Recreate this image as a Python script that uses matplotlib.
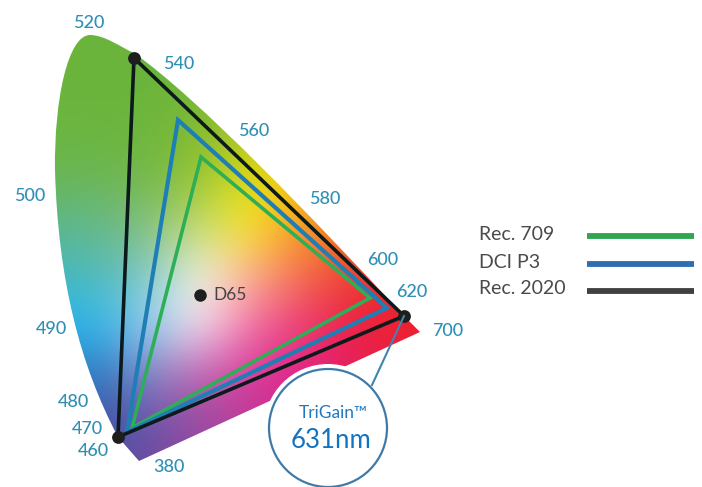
import matplotlib
matplotlib.use("Agg")
import matplotlib.pyplot as plt
from matplotlib.colors import to_rgb
from matplotlib.patches import Polygon, Circle, PathPatch
from matplotlib.path import Path
import numpy as np

plt.rcParams["font.family"] = ["Lato", "DejaVu Sans"]

# everything in pixels
# colour samples on a regular 50 px grid, x = 50..450, y = 25..475
grid_x = [50, 100, 150, 200, 250, 300, 350, 400, 450]
grid_y = [25, 75, 125, 175, 225, 275, 325, 375, 425, 475]
grid_colors = [
    ["#6ab43c", "#6ab43c", "#6ab43c", "#6ab43c", "#7ab83a", "#8cbc30", "#b8c820", "#e8d010", "#f0b010"],
    ["#6ab43c", "#6ab43c", "#6ab43c", "#70b63a", "#7ab83a", "#8cbc30", "#b8c820", "#e8d010", "#f0b010"],
    ["#6cb640", "#6cb63e", "#6cb63c", "#82ba34", "#a8c428", "#c8cc18", "#e8d010", "#f0b010", "#f09018"],
    ["#6ab654", "#6cb650", "#74b84a", "#94c430", "#e4dc10", "#f8cc10", "#f4a018", "#f08020", "#ee5a28"],
    ["#5db78c", "#66b88a", "#86c07c", "#c6dc70", "#fcec20", "#f59a20", "#f07a20", "#ee5028", "#ec3028"],
    ["#45b8c0", "#52bab8", "#84c8c8", "#f6fae8", "#fdb494", "#f57050", "#f04030", "#ee2a28", "#ec2028"],
    ["#28b8f0", "#2cb8f0", "#98d0f4", "#ffeef8", "#f070a8", "#ee3c78", "#e82048", "#ec2030", "#ec2028"],
    ["#2c80c0", "#2c78c0", "#8888c4", "#c060b0", "#d83898", "#e0208c", "#e8205c", "#ec2040", "#ec2030"],
    ["#3a55a5", "#3a55a5", "#6a50a8", "#9a4aa0", "#c03c98", "#d82890", "#e02080", "#e8206c", "#ec2040"],
    ["#5a4ca0", "#5a4ca0", "#6f4da0", "#8a4aa0", "#b04098", "#d02890", "#e02080", "#e8206c", "#ec2040"],
]

rec709_x = [201, 370, 132]
rec709_y = [157, 298, 428]
p3_x = [178, 387, 127]
p3_y = [120, 308, 432]
rec2020_x = [134, 404, 118]
rec2020_y = [58, 316, 437]

wave_labels = ["520", "540", "560", "580", "600", "620", "700", "500", "490", "480", "470", "460", "380"]
wave_x = [89, 179, 254, 325, 383, 412, 448, 30, 52, 74, 87, 93, 169]
wave_y = [23, 64, 131, 199, 260, 292, 331, 196, 329, 402, 429, 451, 467]

legend_names = ["Rec. 709", "DCI P3", "Rec. 2020"]
legend_y = [236, 264, 291]
legend_colors = ["#2fa650", "#2f6fb0", "#404040"]

fig = plt.figure(figsize=(7.02, 4.87), dpi=100)
ax = fig.add_axes([0, 0, 1, 1])

# gradient fill, clipped to the horseshoe
rgb = np.array([[to_rgb(c) for c in row] for row in grid_colors])
im = ax.imshow(rgb, extent=(25, 475, 500, 0), interpolation="bicubic", aspect="auto", zorder=1)
ax.set_xlim(0, 702)
ax.set_ylim(487, 0)
ax.axis("off")

verts = [(118, 437), (80, 365), (58, 280), (55, 170), (54, 100), (68, 35), (90, 35),
         (105, 35), (122, 48), (134, 53), (200, 100), (310, 215), (404, 316),
         (420, 332), (139, 461), (118, 437)]
codes = [Path.MOVETO] + [Path.CURVE4] * 12 + [Path.LINETO] * 2 + [Path.CLOSEPOLY]
locus = PathPatch(Path(verts, codes), fc="none", ec="none", transform=ax.transData)
ax.add_patch(locus)
im.set_clip_path(locus)

# gamut triangles
ax.add_patch(Polygon(np.column_stack([rec709_x, rec709_y]), closed=True, fill=False, ec="#2fae58", lw=2.6, zorder=3))
ax.add_patch(Polygon(np.column_stack([p3_x, p3_y]), closed=True, fill=False, ec="#1f7fb4", lw=3.0, zorder=3))
ax.add_patch(Polygon(np.column_stack([rec2020_x, rec2020_y]), closed=True, fill=False, ec="#0c1a1c", lw=2.6, zorder=4))
ax.scatter(rec2020_x, rec2020_y, s=85, color="#1e1e1e", zorder=5, linewidths=0)

ax.plot([200], [295], "o", ms=9, color="#1e1e1e", mew=0, zorder=5)
ax.text(213, 295, "D65", fontsize=12.5, color="#444444", va="center", zorder=6)

for t, x, y in zip(wave_labels, wave_x, wave_y):
    ax.text(x, y, t, fontsize=13, color="#2f8fb5", ha="center", va="center", fontweight="medium")

# TriGain callout
ax.add_patch(Circle((328, 428), 64, fc="white", ec="none", zorder=6))
ax.plot([404, 372], [316, 385], color="#3f85ad", lw=1.5, zorder=6)
ax.add_patch(Circle((328, 428), 59, fc="white", ec="#3f7aa8", lw=1.6, zorder=7))
ax.text(333, 413, "TriGain\u2122", fontsize=12.5, color="#1f78c0", ha="center", va="center", zorder=8)
ax.text(331, 440, "631nm", fontsize=18.5, color="#1273c0", ha="center", va="center", zorder=8)

# legend
for name, y, c in zip(legend_names, legend_y, legend_colors):
    ax.text(479, y - 2, name, fontsize=14, color="#4a4a4a", va="center")
    ax.plot([587, 694], [y, y], color=c, lw=4.2, solid_capstyle="butt")

fig.savefig("out.png", dpi=100)
